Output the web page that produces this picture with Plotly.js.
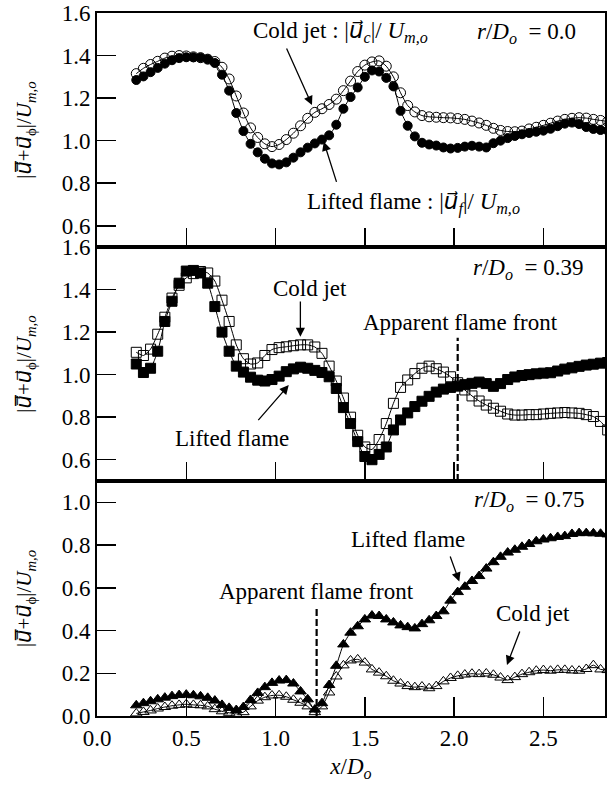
<!DOCTYPE html>
<html>
<head>
<meta charset="utf-8">
<script src="https://cdn.plot.ly/plotly-3.0.1.min.js"></script>
<style>
  html, body { margin: 0; padding: 0; background: #fff; }
  #chart { width: 607px; height: 790px; }
</style>
</head>
<body>
<div id="chart"></div>
<script>
// Axial positions x/Do of the measurement stations (shared by all three radial stations)
const xPos = [0.22, 0.26, 0.30, 0.34, 0.38, 0.42, 0.46, 0.50, 0.54, 0.58, 0.62, 0.66, 0.70, 0.74, 0.78,
  0.82, 0.86, 0.90, 0.94, 0.98, 1.02, 1.06, 1.10, 1.14, 1.18, 1.22, 1.26, 1.30, 1.34, 1.38, 1.42,
  1.46, 1.50, 1.54, 1.58, 1.62, 1.66, 1.70, 1.74, 1.78, 1.82, 1.86, 1.90, 1.94, 1.98, 2.02, 2.06,
  2.10, 2.14, 2.18, 2.22, 2.26, 2.30, 2.34, 2.38, 2.42, 2.46, 2.50, 2.54, 2.58, 2.62, 2.66, 2.70,
  2.74, 2.78, 2.82, 2.86];

// r/Do = 0.0
const coldR00 = [1.315, 1.34, 1.358, 1.373, 1.388, 1.397, 1.40, 1.398, 1.394, 1.39, 1.383, 1.372, 1.345,
  1.29, 1.21, 1.13, 1.06, 1.015, 0.985, 0.972, 0.982, 1.005, 1.035, 1.07, 1.105, 1.133, 1.15, 1.17,
  1.195, 1.235, 1.28, 1.325, 1.355, 1.37, 1.375, 1.35, 1.30, 1.225, 1.165, 1.135, 1.118, 1.112, 1.11,
  1.108, 1.107, 1.104, 1.10, 1.092, 1.083, 1.072, 1.058, 1.048, 1.043, 1.042, 1.045, 1.055, 1.063,
  1.072, 1.082, 1.092, 1.10, 1.105, 1.108, 1.106, 1.10, 1.095, 1.09];
const liftR00 = [1.285, 1.302, 1.322, 1.342, 1.362, 1.378, 1.388, 1.392, 1.392, 1.39, 1.383, 1.365, 1.31,
  1.235, 1.13, 1.045, 0.985, 0.945, 0.915, 0.893, 0.888, 0.898, 0.92, 0.945, 0.967, 0.987, 1.005,
  1.025, 1.075, 1.15, 1.205, 1.25, 1.30, 1.33, 1.325, 1.295, 1.255, 1.14, 1.07, 1.02, 0.99, 0.982,
  0.977, 0.968, 0.963, 0.966, 0.972, 0.976, 0.972, 0.968, 0.988, 1.0, 1.012, 1.022, 1.03, 1.036,
  1.042, 1.047, 1.056, 1.068, 1.08, 1.085, 1.078, 1.064, 1.055, 1.05, 1.047];

// r/Do = 0.39
const coldR039 = [1.105, 1.09, 1.12, 1.19, 1.27, 1.36, 1.42, 1.455, 1.475, 1.485, 1.478, 1.44, 1.35,
  1.25, 1.14, 1.075, 1.05, 1.055, 1.09, 1.118, 1.127, 1.131, 1.136, 1.14, 1.14, 1.13, 1.10, 1.04,
  0.97, 0.89, 0.80, 0.715, 0.66, 0.648, 0.695, 0.77, 0.865, 0.94, 0.975, 1.005, 1.03, 1.04, 1.028,
  1.012, 0.99, 0.962, 0.928, 0.90, 0.876, 0.857, 0.842, 0.828, 0.815, 0.81, 0.81, 0.812, 0.812,
  0.815, 0.818, 0.82, 0.822, 0.82, 0.818, 0.812, 0.803, 0.78, 0.74];
const liftR039 = [1.05, 1.01, 1.03, 1.11, 1.25, 1.345, 1.43, 1.487, 1.49, 1.478, 1.43, 1.32, 1.20,
  1.11, 1.04, 1.012, 0.988, 0.974, 0.97, 0.977, 0.993, 1.014, 1.027, 1.035, 1.03, 1.02, 1.01, 0.99,
  0.935, 0.845, 0.77, 0.685, 0.615, 0.60, 0.625, 0.66, 0.74, 0.787, 0.82, 0.85, 0.875, 0.898, 0.918,
  0.932, 0.94, 0.946, 0.953, 0.959, 0.965, 0.958, 0.945, 0.958, 0.977, 0.989, 0.996, 1.0, 1.004,
  1.007, 1.009, 1.017, 1.026, 1.032, 1.039, 1.045, 1.049, 1.054, 1.057];

// r/Do = 0.75
const coldR075 = [0.012, 0.019, 0.026, 0.035, 0.042, 0.048, 0.052, 0.055, 0.052, 0.05, 0.045, 0.032,
  0.022, 0.015, 0.01, 0.018, 0.045, 0.072, 0.088, 0.096, 0.097, 0.09, 0.076, 0.062, 0.045, 0.018,
  0.045, 0.11, 0.185, 0.237, 0.26, 0.265, 0.25, 0.218, 0.203, 0.186, 0.165, 0.152, 0.14, 0.135,
  0.138, 0.13, 0.14, 0.162, 0.178, 0.188, 0.194, 0.198, 0.196, 0.199, 0.193, 0.18, 0.168, 0.182,
  0.196, 0.205, 0.212, 0.215, 0.212, 0.216, 0.216, 0.213, 0.212, 0.22, 0.238, 0.218, 0.215];
const liftR075 = [0.05, 0.06, 0.069, 0.078, 0.086, 0.093, 0.098, 0.10, 0.097, 0.092, 0.085, 0.072,
  0.052, 0.038, 0.028, 0.042, 0.075, 0.108, 0.135, 0.155, 0.166, 0.168, 0.152, 0.115, 0.078, 0.03,
  0.06, 0.145, 0.235, 0.335, 0.39, 0.42, 0.452, 0.47, 0.468, 0.452, 0.438, 0.424, 0.416, 0.41, 0.43,
  0.448, 0.468, 0.49, 0.54, 0.58, 0.605, 0.632, 0.655, 0.69, 0.72, 0.745, 0.765, 0.778, 0.792,
  0.805, 0.818, 0.826, 0.832, 0.838, 0.842, 0.852, 0.856, 0.856, 0.855, 0.853, 0.85];

// Apparent flame-front positions (x/Do)
const frontR039 = 2.02;
const frontR075 = 1.23;

const FONT = '"Liberation Serif", "Times New Roman", serif';
// vector "u" glyphs need a font that carries the combining arrow
const VEC_FONT = '\'DejaVu Sans\'';
const VEC_U = '<span style="font-family:' + VEC_FONT + '"><i>u\u20D7</i></span>';
const VEC_UBAR = '<span style="font-family:' + VEC_FONT + '"><i>u\u0305\u20D7</i></span>';

function series(y, xa, ya, symbol, size) {
  return {
    x: xPos, y: y, xaxis: xa, yaxis: ya, type: 'scatter', mode: 'lines+markers',
    line: { color: '#000', width: 1, shape: 'spline', smoothing: 0.6 },
    marker: { symbol: symbol, size: size, color: '#000', line: { color: '#000', width: 1 } },
    hoverinfo: 'skip'
  };
}

const data = [
  series(coldR00, 'x', 'y', 'circle-open', 10),
  series(liftR00, 'x', 'y', 'circle', 9),
  series(coldR039, 'x2', 'y2', 'square-open', 10),
  series(liftR039, 'x2', 'y2', 'square', 10),
  series(coldR075, 'x3', 'y3', 'triangle-up-open', 10),
  series(liftR075, 'x3', 'y3', 'triangle-up', 10)
];

const axisBase = {
  showline: true, linewidth: 2, linecolor: '#000', mirror: true,
  ticks: 'inside', ticklen: 19, tickwidth: 1.5, tickcolor: '#000',
  showgrid: false, zeroline: false, fixedrange: true
};

const xBase = Object.assign({}, axisBase, {
  range: [0, 2.845], tickmode: 'array', tickvals: [0, 0.5, 1.0, 1.5, 2.0, 2.5],
  ticktext: ['0.0', '0.5', '1.0', '1.5', '2.0', '2.5']
});

const yTitle = '|' + VEC_UBAR + '+' + VEC_U + '<sub>\u03d5</sub>|/<i>U</i><sub><i>m,o</i></sub>';
const yBase = Object.assign({}, axisBase, {
  dtick: 0.2, tick0: 0, tickformat: '.1f',
  title: { text: yTitle, font: { size: 21 }, standoff: 24 }
});

const layout = {
  width: 607, height: 790,
  margin: { l: 97, r: 2, t: 13, b: 74 },
  showlegend: false,
  paper_bgcolor: '#fff', plot_bgcolor: '#fff',
  font: { family: FONT, size: 23, color: '#000' },
  xaxis: Object.assign({}, xBase, { anchor: 'y', showticklabels: false }),
  xaxis2: Object.assign({}, xBase, { anchor: 'y2', showticklabels: false }),
  xaxis3: Object.assign({}, xBase, {
    anchor: 'y3', showticklabels: true,
    title: { text: '<i>x</i>/<i>D</i><sub><i>o</i></sub>', font: { size: 23 }, standoff: 8 }
  }),
  yaxis: Object.assign({}, yBase, { domain: [0.6671, 1], range: [0.5, 1.6], anchor: 'x' }),
  yaxis2: Object.assign({}, yBase, { domain: [0.3343, 0.6671], range: [0.5, 1.6], anchor: 'x2' }),
  yaxis3: Object.assign({}, yBase, { domain: [0, 0.3343], range: [0, 1.1], anchor: 'x3' }),
  shapes: [
    { type: 'line', xref: 'x2', yref: 'y2', x0: frontR039, x1: frontR039, y0: 0.5, y1: 1.174,
      line: { color: '#000', width: 2.2, dash: '7px,3px' } },
    { type: 'line', xref: 'x3', yref: 'y3', x0: frontR075, x1: frontR075, y0: 0, y1: 0.512,
      line: { color: '#000', width: 2.2, dash: '7px,3px' } }
  ],
  annotations: []
};

function label(text, xa, ya, x, y) {
  layout.annotations.push({ text: text, xref: xa, yref: ya, x: x, y: y, showarrow: false,
    xanchor: 'center', yanchor: 'middle', font: { family: FONT, size: 23, color: '#000' } });
}
function arrow(xa, ya, tailX, tailY, tipX, tipY) {
  layout.annotations.push({ text: '', xref: xa, yref: ya, axref: xa, ayref: ya,
    x: tipX, y: tipY, ax: tailX, ay: tailY, showarrow: true,
    arrowhead: 2, arrowsize: 1.4, arrowwidth: 1.3, arrowcolor: '#000', standoff: 0 });
}

const sp = '\u00a0\u00a0';
// r/Do = 0.0
label('Cold jet : |' + VEC_U + '<sub><i>c</i></sub>|/ <i>U</i><sub><i>m,o</i></sub>', 'x', 'y', 1.361, 1.511);
label('Lifted flame : |' + VEC_U + '<sub><i>f</i></sub>|/ <i>U</i><sub><i>m,o</i></sub>', 'x', 'y', 1.773, 0.707);
label('<i>r</i>/<i>D</i><sub><i>o</i></sub>' + sp + '= 0.0', 'x', 'y', 2.408, 1.505);
arrow('x', 'y', 1.058, 1.44, 1.204, 1.167);
arrow('x', 'y', 1.344, 0.799, 1.27, 0.995);
// r/Do = 0.39
label('<i>r</i>/<i>D</i><sub><i>o</i></sub>' + sp + '= 0.39', 'x2', 'y2', 2.414, 1.495);
label('Cold jet', 'x2', 'y2', 1.193, 1.407);
label('Lifted flame', 'x2', 'y2', 0.756, 0.702);
label('Apparent flame front', 'x2', 'y2', 2.033, 1.243);
arrow('x2', 'y2', 1.139, 1.351, 1.139, 1.178);
arrow('x2', 'y2', 0.896, 0.779, 1.074, 0.951);
// r/Do = 0.75
label('<i>r</i>/<i>D</i><sub><i>o</i></sub>' + sp + '= 0.75', 'x3', 'y3', 2.42, 1.005);
label('Lifted flame', 'x3', 'y3', 1.742, 0.824);
label('Apparent flame front', 'x3', 'y3', 1.232, 0.581);
label('Cold jet', 'x3', 'y3', 2.442, 0.482);
arrow('x3', 'y3', 1.975, 0.754, 2.029, 0.629);
arrow('x3', 'y3', 2.371, 0.403, 2.296, 0.239);

Plotly.newPlot('chart', data, layout, { staticPlot: true, displayModeBar: false });
</script>
</body>
</html>
